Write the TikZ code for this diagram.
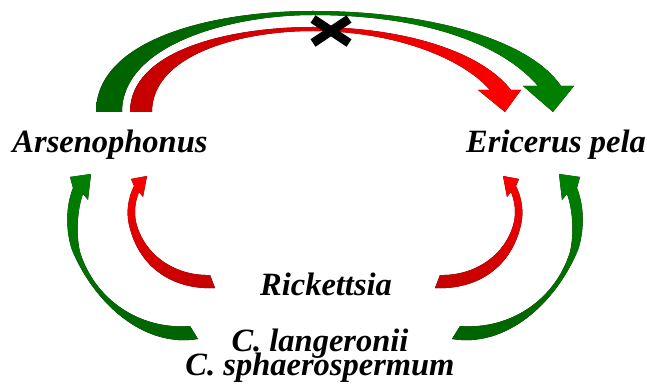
\documentclass[tikz,border=0pt]{standalone}
\usepackage{fontspec}
\setmainfont{Liberation Serif}
\definecolor{leaf-green}{RGB}{0,128,0}
\definecolor{leaf-dark}{RGB}{0,98,0}
\definecolor{flame-red}{RGB}{255,0,0}
\definecolor{flame-dark}{RGB}{196,0,0}
\tikzstyle{species-label} = [font=\fontsize{32.5}{23.5}\selectfont\bfseries\itshape,
    inner sep=0pt, align=center]
\tikzstyle{green-arrow} = [draw=none, top color=leaf-green, bottom color=leaf-dark]
\tikzstyle{red-arrow} = [draw=none, top color=flame-red, bottom color=flame-dark]
\tikzstyle{cross-mark} = [line width=9pt, black]
% curved arrows from the two lower labels up to one side
\newcommand{\sidearrows}{%
    \fill[green-arrow] (198,339) .. controls (145,348) and (95,305) .. (72,250)
        .. controls (66,232) and (65,208) .. (73,188) -- (70,177) -- (91,174)
        -- (88,200) -- (83,194) .. controls (77,210) and (76,235) .. (80,252)
        .. controls (95,300) and (140,330) .. (190,326) -- cycle;
    \fill[red-arrow] (215,288) .. controls (178,290) and (140,272) .. (129,225)
        .. controls (126,212) and (128,198) .. (134,186) -- (131,179) -- (147,176)
        -- (143,197) -- (139,192) .. controls (135,202) and (134,212) .. (136,222)
        .. controls (144,255) and (175,276) .. (210,275) -- cycle;
}

\begin{document}
\begin{tikzpicture}[x=1pt, y=-1pt]
\useasboundingbox (0,0) rectangle (647,387);

\node[species-label, anchor=base] (arseno) at (110,153) {Arsenophonus};
\node[species-label, anchor=base] (ericerus) at (556,153) {Ericerus pela};
\node[species-label, anchor=base] (rick) at (326,295) {Rickettsia};
\node[species-label, anchor=base] (clado) at (320,375) {C. langeronii\\[-7pt]C. sphaerospermum};

% top: Arsenophonus to Ericerus pela
\fill[green-arrow, left color=leaf-dark, right color=leaf-green]
    (96,112) .. controls (96,40) and (210,11) .. (313,11)
    .. controls (430,11) and (530,40) .. (561,86) -- (574,86) -- (553,112)
    -- (523,86) -- (538,86) .. controls (500,42) and (420,15) .. (313,15)
    .. controls (230,15) and (122,45) .. (122,112) -- cycle;
\fill[red-arrow, left color=flame-dark, right color=flame-red]
    (130,112) .. controls (130,50) and (230,27) .. (313,27)
    .. controls (400,27) and (480,50) .. (511,90) -- (521,90) -- (505,112)
    -- (478,90) -- (490,90) .. controls (460,56) and (390,31) .. (313,31)
    .. controls (240,31) and (152,55) .. (152,112) -- cycle;
\coordinate (block) at (331,31);
\draw[cross-mark] ([shift={(-18,-12)}]block) -- ([shift={(18,12)}]block);
\draw[cross-mark] ([shift={(-18,12)}]block) -- ([shift={(18,-12)}]block);

\sidearrows
\begin{scope}[xshift=650pt, xscale=-1]
\sidearrows
\end{scope}
\end{tikzpicture}
\end{document}
